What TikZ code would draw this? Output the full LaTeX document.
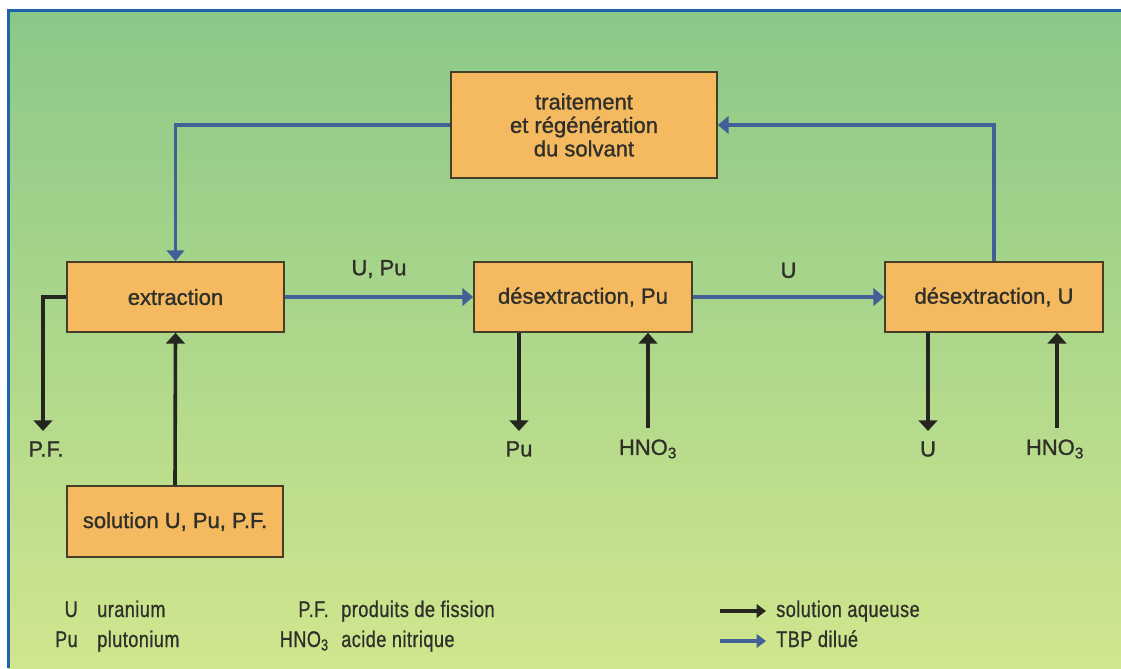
\documentclass[tikz,border=0pt]{standalone}
\usepackage{fontspec}
\setmainfont{Liberation Sans}
\newfontfamily\boxf[UprightFeatures={FakeBold=1.2}]{Liberation Sans}
\newfontfamily\condf[UprightFeatures={FakeStretch=0.8,FakeBold=0.8},LetterSpace=2]{Liberation Sans}
\usetikzlibrary{arrows.meta}
\definecolor{bgtop}{RGB}{138,200,136}
\definecolor{bgbot}{RGB}{208,230,142}
\definecolor{boxfill}{RGB}{245,186,96}
\definecolor{boxline}{RGB}{70,62,40}
\definecolor{blueline}{RGB}{66,96,150}
\definecolor{darkline}{RGB}{38,38,32}
\definecolor{frameblue}{RGB}{30,100,170}
\definecolor{txt}{RGB}{48,48,42}
\begin{document}
\begin{tikzpicture}[x=0.75pt,y=-0.75pt,
  procbox/.style={draw=boxline, line width=1.3pt, fill=boxfill, inner sep=0pt,
    text=txt, font=\boxf\fontsize{16.5}{17.6}\selectfont, align=center},
  blueflow/.style={draw=blueline, line width=2.4pt, -{Triangle[width=13pt,length=8pt]}},
  darkflow/.style={draw=darkline, line width=2.7pt, -{Triangle[width=14pt,length=8pt]}},
  lbl/.style={text=txt, font=\boxf\fontsize{16.5}{20}\selectfont, inner sep=0pt},
  leg/.style={text=txt, font=\condf\fontsize{17}{18}\selectfont, inner sep=0pt},
  legarrow/.style={line width=2.4pt, -{Triangle[width=10pt,length=7pt]}},
]
\useasboundingbox (0,0) rectangle (1121,668);
\fill[white] (0,0) rectangle (1121,668);
\shade[top color=bgtop, bottom color=bgbot] (8,10) rectangle (1121,668);
\draw[frameblue, line width=2.3pt] (8.5,668) -- (8.5,10.5) -- (1121,10.5);

% boxes
\node[procbox, minimum width={266*0.75pt}, minimum height={106*0.75pt}] (trait) at (584,125)
  {traitement\\et régénération\\du solvant};
\node[procbox, minimum width={217*0.75pt}, minimum height={70*0.75pt}] (extr) at (175.5,297) {extraction};
\node[procbox, minimum width={218*0.75pt}, minimum height={70*0.75pt}] (dpu) at (583,297) {désextraction, Pu};
\node[procbox, minimum width={218*0.75pt}, minimum height={70*0.75pt}] (du) at (994,297) {désextraction, U};
\node[procbox, minimum width={216*0.75pt}, minimum height={71*0.75pt}] (sol) at (175,521.5) {solution U, Pu, P.F.};

% blue flows (TBP)
\draw[blueflow] (trait.west) -| (extr.north);
\draw[blueflow] (du.north) |- (trait.east);
\draw[blueflow] (extr.east) -- (dpu.west) node[lbl, midway, above=13pt] (lupu) {U, Pu};
\draw[blueflow] (dpu.east) -- (du.west) node[lbl, midway, above=13pt] (lu) {U};

% bottom labels
\node[lbl] (pf) at (46,449) {P.F.};
\node[lbl] (pu) at (519,449) {Pu};
\node[lbl] (hnoa) at (648,449) {HNO\textsubscript{3}};
\node[lbl] (uout) at (928,449) {U};
\node[lbl] (hnob) at (1055,449) {HNO\textsubscript{3}};
\coordinate (pfend) at (43,431);
\coordinate (puend) at (519,431);
\coordinate (hnoastart) at (648,428);
\coordinate (uend) at (928,431);
\coordinate (hnobstart) at (1057,428);

% dark flows (aqueous)
\draw[darkflow] (extr.west) -| (pfend);
\draw[darkflow] (sol.north) -- (extr.south);
\draw[darkflow] (dpu.south -| puend) -- (puend);
\draw[darkflow] (hnoastart) -- (hnoastart |- dpu.south);
\draw[darkflow] (du.south -| uend) -- (uend);
\draw[darkflow] (hnobstart) -- (hnobstart |- du.south);

% legend
\node[leg, anchor=base east] (lgU) at (78,617) {U};
\node[leg, anchor=base west] (lgUt) at (97,617) {uranium};
\node[leg, anchor=base east] (lgPu) at (78,647) {Pu};
\node[leg, anchor=base west] (lgPut) at (97,647) {plutonium};
\node[leg, anchor=base east] (lgPF) at (329,617) {P.F.};
\node[leg, anchor=base west] (lgPFt) at (341,617) {produits de fission};
\node[leg, anchor=base east] (lgH) at (329,647) {HNO\textsubscript{3}};
\node[leg, anchor=base west] (lgHt) at (341,647) {acide nitrique};
\node[leg, anchor=base west] (lgaq) at (776,617) {solution aqueuse};
\node[leg, anchor=base west] (lgtbp) at (776,647) {TBP dilué};
\coordinate (la1) at (720,611);
\coordinate (la1e) at (766,611);
\coordinate (la2) at (720,641);
\coordinate (la2e) at (766,641);
\draw[legarrow, darkline] (la1) -- (la1e);
\draw[legarrow, blueline] (la2) -- (la2e);
\end{tikzpicture}
\end{document}
